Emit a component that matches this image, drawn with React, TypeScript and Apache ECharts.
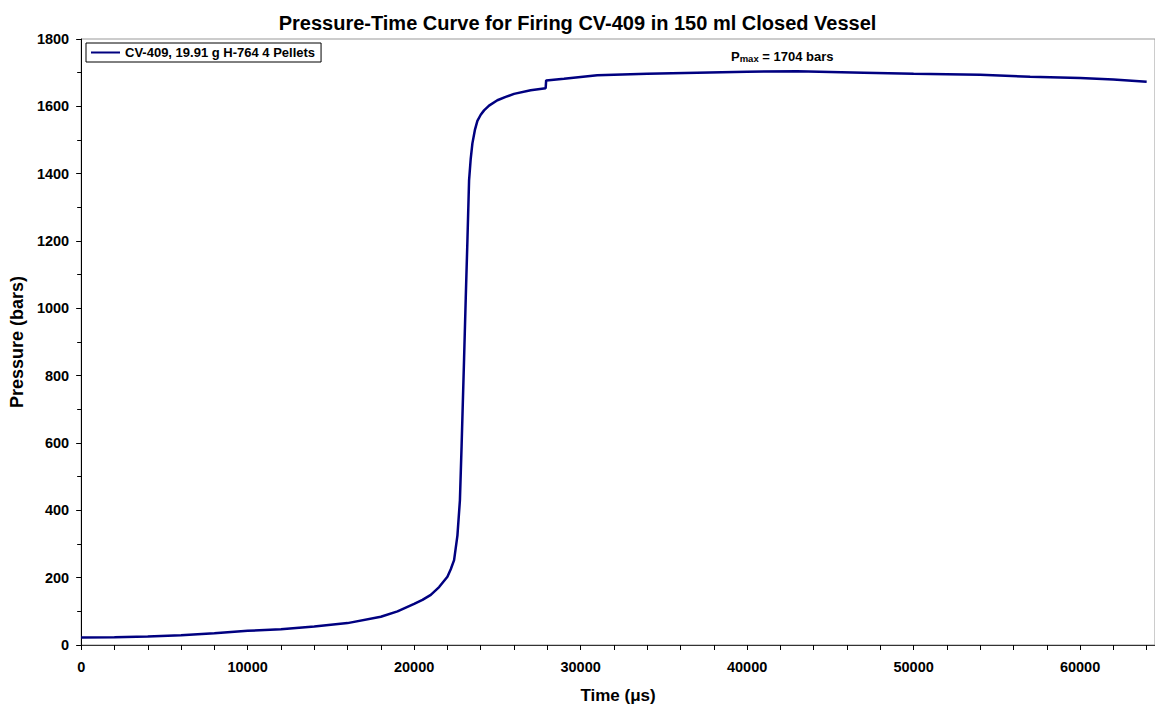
import React, { useEffect, useRef } from "react";
import * as echarts from "echarts";

const timeUs = [
  0, 2000, 4000, 6000, 8000, 10000, 12000, 14000, 16000, 18000, 19000, 20000,
  20500, 21000, 21500, 22000, 22200, 22400, 22600, 22750, 22850, 23000, 23100,
  23200, 23300, 23400, 23500, 23650, 23800, 24000, 24200, 24500, 25000, 25500,
  26000, 27000, 27900, 27930, 29000, 31000, 34000, 37000, 40000, 43000, 47000,
  50000, 54000, 57000, 60000, 62000, 64000,
];
const pressureBar = [
  22, 23, 25, 29, 35, 42, 47, 55, 65, 84, 100, 122, 134, 149, 172, 203, 225,
  252, 325, 430, 590, 850, 1030, 1200, 1380, 1445, 1490, 1530, 1557, 1575,
  1588, 1602, 1618, 1628, 1637, 1648, 1654, 1677, 1682, 1692, 1697, 1700,
  1703, 1704, 1700, 1697, 1694, 1688, 1684, 1680, 1673,
];
const seriesName = "CV-409, 19.91 g H-764 4 Pellets";
const titleText = "Pressure-Time Curve for Firing CV-409 in 150 ml Closed Vessel";
const pmaxValue = 1704;

const FONT = "Arial, 'Liberation Sans', sans-serif";

export default function App() {
  const ref = useRef<HTMLDivElement>(null);
  useEffect(() => {
    if (!ref.current) return;
    const chart = echarts.init(ref.current, undefined, { renderer: "svg" });
    const data = timeUs.map((t, i) => [t, pressureBar[i]]);
    chart.setOption({
      animation: false,
      backgroundColor: "#ffffff",
      textStyle: { fontFamily: FONT },
      title: {
        text: titleText,
        left: "center",
        top: 8,
        textStyle: { fontSize: 20, fontWeight: "bold", color: "#000", fontFamily: FONT },
      },
      legend: {
        left: 86,
        top: 43,
        orient: "vertical",
        borderColor: "#000",
        borderWidth: 1,
        borderRadius: 0,
        padding: [3, 6, 3, 5],
        itemWidth: 29,
        itemHeight: 2,
        itemGap: 4,
        textStyle: { fontSize: 13, fontWeight: "bold", color: "#000", fontFamily: FONT },
        data: [{ name: seriesName, icon: "rect" }],
      },
      grid: {
        left: 80,
        right: 0,
        top: 39,
        bottom: 64,
        show: true,
        borderColor: "#999",
        borderWidth: 1,
      },
      xAxis: {
        type: "value",
        min: 0,
        max: 64500,
        interval: 10000,
        name: "Time (\u03bcs)",
        nameLocation: "middle",
        nameGap: 42,
        nameTextStyle: { fontSize: 17, fontWeight: "bold", color: "#000", fontFamily: FONT },
        axisLine: { show: true, lineStyle: { color: "#333", width: 1 } },
        axisTick: { show: true, length: 5, lineStyle: { color: "#000" } },
        minorTick: { show: true, splitNumber: 5, length: 5, lineStyle: { color: "#000" } },
        splitLine: { show: false },
        axisLabel: {
          margin: 14,
          fontSize: 14.5,
          fontWeight: "bold",
          color: "#000",
          fontFamily: FONT,
          showMaxLabel: false,
          formatter: (v: number) => String(v),
        },
      },
      yAxis: {
        type: "value",
        min: 0,
        max: 1800,
        interval: 200,
        name: "Pressure (bars)",
        nameLocation: "middle",
        nameGap: 55,
        nameTextStyle: { fontSize: 18, fontWeight: "bold", color: "#000", fontFamily: FONT },
        axisLine: { show: true, lineStyle: { color: "#000", width: 1 } },
        axisTick: { show: true, length: 5, lineStyle: { color: "#000" } },
        minorTick: { show: true, splitNumber: 2, length: 4, lineStyle: { color: "#000" } },
        splitLine: { show: false },
        axisLabel: {
          margin: 12,
          fontSize: 14.5,
          fontWeight: "bold",
          color: "#000",
          fontFamily: FONT,
          formatter: (v: number) => String(v),
        },
      },
      series: [
        {
          name: seriesName,
          type: "line",
          data,
          symbol: "none",
          smooth: false,
          lineStyle: { color: "#000080", width: 2.5 },
          itemStyle: { color: "#000080" },
        },
      ],
      graphic: [
        {
          type: "text",
          left: 731,
          top: 50,
          style: {
            text: "{p|P}{s|max}{p| = " + pmaxValue + " bars}",
            rich: {
              p: { fontSize: 13, fontWeight: "bold", fill: "#000", fontFamily: FONT, verticalAlign: "bottom" },
              s: { fontSize: 9.5, fontWeight: "bold", fill: "#000", fontFamily: FONT, padding: [6, 0, 0, 0] },
            },
          },
        },
      ],
    });
    return () => chart.dispose();
  }, []);
  return <div ref={ref} style={{ width: 1155, height: 709, position: "absolute", left: 0, top: 0 }} />;
}
